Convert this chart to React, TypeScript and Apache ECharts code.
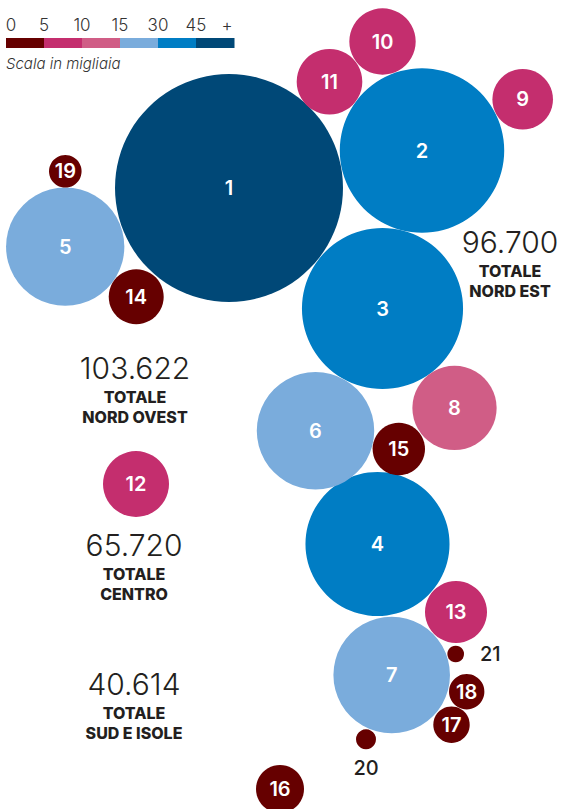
import React, { useEffect, useRef } from "react";
import * as echarts from "echarts";

// Bubble ids, values (thousands) and layout positions
const ids = [1, 2, 3, 4, 5, 6, 7, 8, 9, 10, 11, 12, 13, 14, 15, 16, 17, 18, 19, 20, 21];
const values = [76.9, 40.0, 38.4, 30.7, 20.7, 20.4, 20.1, 10.5, 5.43, 6.52, 6.37, 6.44, 5.69, 4.47, 4.06, 3.41, 1.96, 1.85, 1.57, 0.59, 0.41];
const posX = [229, 422, 382.5, 377.5, 65.2, 315.5, 391.7, 454.5, 522.7, 382.5, 329.5, 136, 456, 136.2, 398.8, 280, 451.5, 466.7, 65.3, 366, 455.7];
const posY = [188, 150.5, 308.5, 544, 246.7, 430.8, 675, 408, 99.3, 41.5, 81.7, 484, 612, 296.8, 449, 789, 724.7, 691.7, 171.3, 739.3, 654];
const outsideLabel: Record<number, string> = { 20: "bottom", 21: "right" };

// Legend scale
const thresholds = [0, 5, 10, 15, 30, 45];
const tickLabels = ["0", "5", "10", "15", "30", "45", "+"];
const colors = ["#660000", "#c42e6e", "#d05d86", "#7aacdc", "#007dc4", "#004877"];

// Region totals
const regionTotals = ["103.622", "96.700", "65.720", "40.614"];
const regionNames = ["NORD OVEST", "NORD EST", "CENTRO", "SUD E ISOLE"];
const regionAnchorX = [135, 510, 134, 134];
const regionAnchorY = [370, 244, 547, 686];

const K = 13;
const W = 561;
const H = 809;
const TEXT = "#231f20";
const FONT = "Inter, 'Noto Sans', sans-serif";

function colorFor(v: number) {
  let idx = 0;
  for (let i = 0; i < thresholds.length; i++) if (v >= thresholds[i]) idx = i;
  return colors[idx];
}

export default function App() {
  const ref = useRef<HTMLDivElement>(null);
  useEffect(() => {
    document.body.style.margin = "0";
    const chart = echarts.init(ref.current!, null, { renderer: "svg" });

    const data = ids.map((id, i) => {
      const pos = outsideLabel[id];
      return {
        value: [posX[i], posY[i], values[i], id],
        itemStyle: { color: colorFor(values[i]) },
        label: pos
          ? {
              position: pos,
              distance: pos === "bottom" ? 9 : 16,
              color: TEXT,
              fontWeight: 500,
            }
          : undefined,
      };
    });

    const segW = 38;
    const legendX = 6;
    const legend: any[] = [];
    colors.forEach((c, i) => {
      legend.push({
        type: "rect",
        shape: { x: legendX + i * segW, y: 38, width: segW + 0.5, height: 10 },
        style: { fill: c },
      });
    });
    tickLabels.forEach((t, i) => {
      legend.push({
        type: "text",
        x: i === 0 ? 11 : legendX + i * segW + (i === tickLabels.length - 1 ? -7 : 0),
        y: 25,
        style: {
          text: t,
          fill: "#333",
          font: `300 17px ${FONT}`,
          align: "center",
          verticalAlign: "middle",
        },
      });
    });
    legend.push({
      type: "text",
      x: 6,
      y: 63,
      style: {
        text: "Scala in migliaia",
        fill: "#333",
        font: `italic 300 15px ${FONT}`,
        align: "left",
        verticalAlign: "middle",
      },
    });

    const regionText: any[] = [];
    regionTotals.forEach((t, i) => {
      const x = regionAnchorX[i];
      const y = regionAnchorY[i];
      regionText.push({
        type: "text",
        x,
        y: y - 2,
        style: {
          text: t,
          fill: TEXT,
          fontFamily: FONT,
          fontSize: 30,
          fontWeight: 300,
          lineHeight: 24,
          align: "center",
          verticalAlign: "middle",
        },
      });
      regionText.push({
        type: "text",
        x,
        y: y + 27,
        style: {
          text: "TOTALE",
          fill: TEXT,
          fontFamily: FONT,
          fontSize: 16,
          fontWeight: 800,
          lineHeight: 16,
          align: "center",
          verticalAlign: "middle",
        },
      });
      regionText.push({
        type: "text",
        x,
        y: y + 47,
        style: {
          text: regionNames[i],
          fill: TEXT,
          fontFamily: FONT,
          fontSize: 16,
          fontWeight: 800,
          lineHeight: 16,
          align: "center",
          verticalAlign: "middle",
        },
      });
    });

    chart.setOption({
      animation: false,
      grid: { left: 0, right: 0, top: 0, bottom: 0 },
      xAxis: { type: "value", min: 0, max: W, show: false },
      yAxis: { type: "value", min: 0, max: H, inverse: true, show: false },
      series: [
        {
          type: "scatter",
          data,
          symbolSize: (v: number[]) => 2 * K * Math.sqrt(v[2]),
          itemStyle: { opacity: 1 },
          label: {
            show: true,
            position: "inside",
            formatter: (p: any) => String(p.value[3]),
            color: "#fff",
            fontFamily: FONT,
            fontSize: 20,
            fontWeight: 600,
          },
          emphasis: { disabled: true },
        },
      ],
      graphic: [...legend, ...regionText],
    });
    return () => chart.dispose();
  }, []);
  return <div ref={ref} style={{ width: W, height: H }} />;
}
